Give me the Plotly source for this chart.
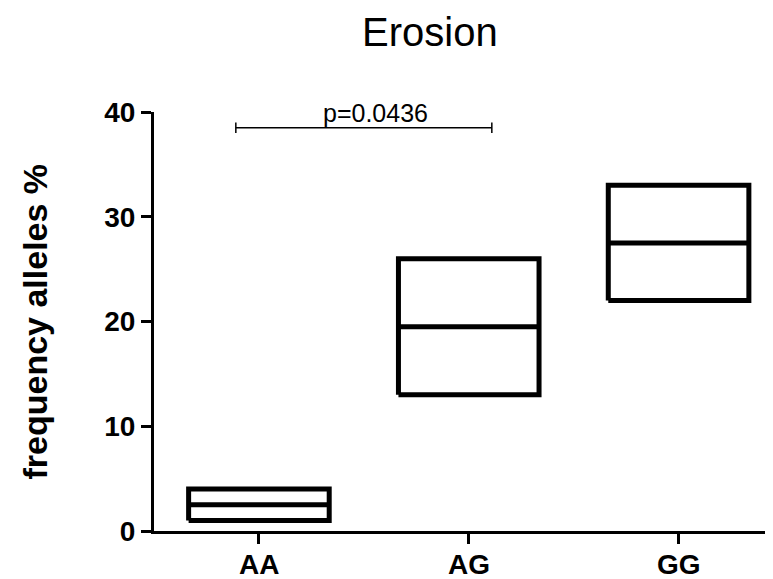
import plotly.graph_objects as go

categories = ["AA", "AG", "GG"]
box_min = [1.0, 13.0, 22.0]
box_max = [4.0, 26.0, 33.0]
box_mid = [2.5, 19.5, 27.5]
y_ticks = [0, 10, 20, 30, 40]
p_label = "p=0.0436"
p_pair = (0, 1)
p_y = 38.5

HALF = 0.335
FONT = "Liberation Sans, Arial, Helvetica, sans-serif"
W, H = 765, 571
L, T, B = 146, 104, 48

fig = go.Figure()
for i, cat in enumerate(categories):
    lo, hi, mid = box_min[i], box_max[i], box_mid[i]
    fig.add_trace(go.Scatter(
        x=[i - HALF, i + HALF, i + HALF, i - HALF, i - HALF],
        y=[lo, lo, hi, hi, lo],
        mode="lines", line=dict(color="black", width=5),
        fill="toself", fillcolor="rgba(0,0,0,0)",
        showlegend=False, hoverinfo="skip"))
    fig.add_trace(go.Scatter(
        x=[i - HALF, i + HALF], y=[mid, mid],
        mode="lines", line=dict(color="black", width=5),
        showlegend=False, hoverinfo="skip"))

# significance bracket
a, b = p_pair
xa, xb = a - 0.11, b + 0.11
cap = 0.5
fig.add_trace(go.Scatter(
    x=[xa, xa, None, xa, xb, None, xb, xb],
    y=[p_y - cap, p_y + cap, None, p_y, p_y, None, p_y - cap, p_y + cap],
    mode="lines", line=dict(color="black", width=1.5),
    showlegend=False, hoverinfo="skip"))
fig.add_annotation(x=(xa + xb) / 2, y=p_y, text=p_label, showarrow=False,
                   xanchor="center", yanchor="bottom", xshift=12, yshift=-1,
                   font=dict(family=FONT, size=25, color="black"))

fig.add_annotation(xref="paper", yref="paper", x=(26 - L) / (W - L), y=0.5,
                   text="<b>frequency alleles %</b>", textangle=-90,
                   showarrow=False, xanchor="center", yanchor="middle",
                   font=dict(family=FONT, size=34, color="black"))

# x tick labels as annotations so they sit close to the axis
for i, cat in enumerate(categories):
    fig.add_annotation(x=i, xref="x", yref="paper", y=0, yshift=-17,
                       text=f"<b>{cat}</b>", showarrow=False,
                       xanchor="center", yanchor="top", borderpad=0,
                       font=dict(family=FONT, size=28, color="black"))

# chart title
fig.add_annotation(xref="paper", yref="paper", x=(422 - L) / (W - L), y=1,
                   yshift=T - 1, text="Erosion", showarrow=False,
                   xanchor="center", yanchor="top", borderpad=0,
                   font=dict(family=FONT, size=40, color="black"))

fig.update_layout(
    width=W, height=H,
    margin=dict(l=L, r=0, t=T, b=B, autoexpand=False),
    paper_bgcolor="white", plot_bgcolor="white",
    xaxis=dict(range=[-0.5, 2.45], tickmode="array",
               tickvals=list(range(len(categories))),
               showticklabels=False, automargin=False,
               showline=True, linecolor="black", linewidth=3,
               ticks="outside", ticklen=10, tickwidth=3, tickcolor="black",
               showgrid=False, zeroline=False),
    yaxis=dict(range=[0, 40], tickmode="array", tickvals=y_ticks,
               ticktext=[f"<b>{t}</b>" for t in y_ticks], automargin=False,
               showline=True, linecolor="black", linewidth=3,
               ticks="outside", ticklen=10, tickwidth=3, tickcolor="black",
               showgrid=False, zeroline=False,
               tickfont=dict(family=FONT, size=28, color="black")),
)

fig.write_html("out.html")
